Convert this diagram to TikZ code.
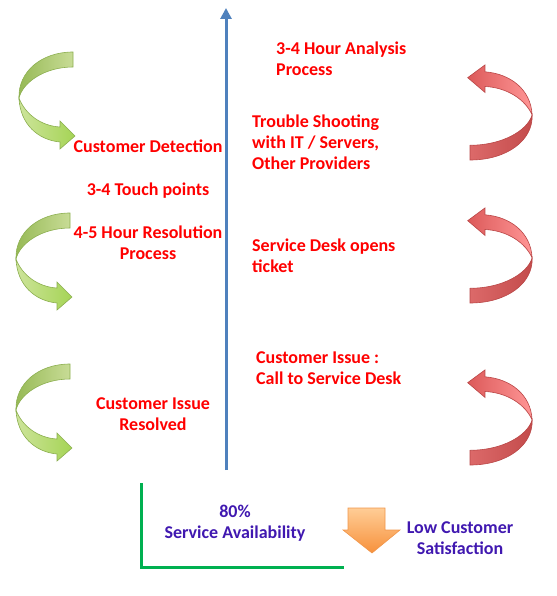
\documentclass[tikz,border=0pt]{standalone}
\usepackage{fontspec}
\setmainfont{Carlito}
\usetikzlibrary{arrows.meta}
\definecolor{txtred}{RGB}{255,0,0}
\definecolor{txtpurple}{RGB}{64,24,176}
\definecolor{axisblue}{RGB}{79,129,189}
\definecolor{lgreen}{RGB}{0,176,80}
\definecolor{gbackA}{RGB}{150,185,85}
\definecolor{gbackB}{RGB}{200,220,150}
\definecolor{gfrontA}{RGB}{205,228,155}
\definecolor{gfrontB}{RGB}{165,212,85}
\definecolor{gline}{RGB}{140,175,80}
\definecolor{rfrontA}{RGB}{255,150,150}
\definecolor{rfrontB}{RGB}{220,90,90}
\definecolor{rbackA}{RGB}{195,75,75}
\definecolor{rbackB}{RGB}{220,105,105}
\definecolor{rline}{RGB}{185,70,70}
\definecolor{orA}{RGB}{255,205,150}
\definecolor{orB}{RGB}{247,145,60}
\definecolor{orline}{RGB}{240,150,75}
\tikzset{
  redtxt/.style={text=txtred, font=\fontsize{18}{21.5}\selectfont\bfseries, inner sep=0pt, align=left},
  redctr/.style={text=txtred, font=\fontsize{18}{21.5}\selectfont\bfseries, inner sep=0pt, align=center},
  purptxt/.style={text=txtpurple, font=\fontsize{18}{21}\selectfont\bfseries, inner sep=0pt, align=center},
}
\newcommand\bandback[3]{%
  \path[draw=#3, line width=0.6pt, left color=#1, right color=#2]
    (0,0) .. controls (-32,0) and (-55,20) .. (-54,46)
    .. controls (-50,30) and (-28,15) .. (0,15) -- cycle;}
\newcommand\bandfront[3]{%
  \path[draw=#3, line width=0.6pt, left color=#1, right color=#2]
    (-54,46) .. controls (-53,72) and (-35,88) .. (-13,90)
    -- (-13,97) -- (2,84) -- (-13,69) -- (-13,75)
    .. controls (-32,74) and (-48,62) .. (-54,46) -- cycle;}
\newcommand\greenarrow[2]{%
  \begin{scope}[shift={(#1,#2)}]
    \bandback{gbackA}{gbackB}{gline}
    \bandfront{gfrontA}{gfrontB}{gline}
  \end{scope}}
\newcommand\redarrow[2]{%
  \begin{scope}[shift={(#1,#2)}, rotate=180, xscale=1.15, yscale=0.98]
    \bandback{rbackB}{rbackA}{rline}
    \bandfront{rfrontB}{rfrontA}{rline}
  \end{scope}}
\begin{document}
\begin{tikzpicture}[x=1pt, y=-1pt]
\useasboundingbox (0,0) rectangle (556,596);
% curved arrows
\greenarrow{73}{52}
\greenarrow{70}{213}
\greenarrow{70}{364}
\redarrow{470}{160}
\redarrow{470}{303}
\redarrow{470}{465}
% axis
\coordinate (b0) at (226,470);
\coordinate (b1) at (226,8);
\draw[axisblue, line width=3pt, -{Triangle[width=11pt,length=11pt]}] (b0) -- (b1);
% green L
\coordinate (g1) at (141,483);
\coordinate (g2) at (141,567);
\coordinate (g3) at (344,567);
\draw[lgreen, line width=3pt] (g1) -- (g2) -- (g3);
% orange down arrow
\path[draw=orline, line width=0.6pt, top color=orA, bottom color=orB]
  (348,508) -- (385,508) -- (385,530) -- (400,530) -- (372,553)
  -- (343,530) -- (348,530) -- cycle;
% red texts right
\node[redtxt, anchor=mid west] (t1) at (276,52) {3-4 Hour Analysis};
\node[redtxt, anchor=mid west] (t2) at (276,73) {Process};
\node[redtxt, anchor=mid west] (t3) at (252,125) {Trouble Shooting};
\node[redtxt, anchor=mid west] (t4) at (252,146) {with IT / Servers,};
\node[redtxt, anchor=mid west] (t5) at (252,167) {Other Providers};
\node[redtxt, anchor=mid west] (t6) at (252,249) {Service Desk opens};
\node[redtxt, anchor=mid west] (t7) at (252,270) {ticket};
\node[redtxt, anchor=mid west] (t8) at (256,361) {Customer Issue :};
\node[redtxt, anchor=mid west] (t9) at (256,382) {Call to Service Desk};
% red texts left
\node[redctr, anchor=mid] (l1) at (148,150) {Customer Detection};
\node[redctr, anchor=mid] (l2) at (148,193) {3-4 Touch points};
\node[redctr, anchor=mid] (l3) at (148,236) {4-5 Hour Resolution};
\node[redctr, anchor=mid] (l4) at (148,257) {Process};
\node[redctr, anchor=mid] (l5) at (153,407) {Customer Issue};
\node[redctr, anchor=mid] (l6) at (153,428) {Resolved};
% purple texts
\node[purptxt, anchor=mid] (p1) at (235,515) {80\%};
\node[purptxt, anchor=mid] (p2) at (235,536) {Service Availability};
\node[purptxt, anchor=mid] (p3) at (460,531) {Low Customer};
\node[purptxt, anchor=mid] (p4) at (460,552) {Satisfaction};
\end{tikzpicture}
\end{document}
